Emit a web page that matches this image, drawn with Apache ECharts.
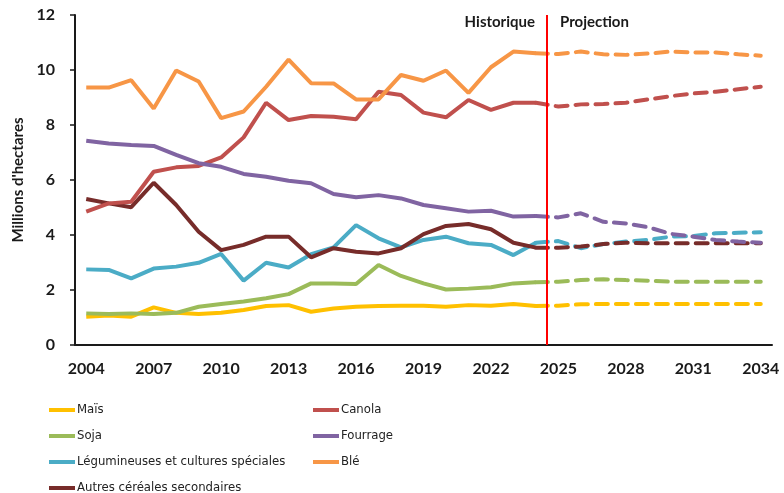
<!DOCTYPE html>
<html>
<head>
<meta charset="utf-8">
<script src="https://cdn.jsdelivr.net/npm/echarts@6/dist/echarts.min.js"></script>
<style>
  html, body { margin: 0; padding: 0; background: #fff; }
  #chart { width: 784px; height: 493px; }
</style>
</head>
<body>
<div id="chart"></div>
<script>
const years = ['2004', '2005', '2006', '2007', '2008', '2009', '2010', '2011', '2012', '2013',
  '2014', '2015', '2016', '2017', '2018', '2019', '2020', '2021', '2022', '2023', '2024',
  '2025', '2026', '2027', '2028', '2029', '2030', '2031', '2032', '2033', '2034']

// historique 2004-2024
const maisHist = [1.03, 1.07, 1.03, 1.37, 1.17, 1.13, 1.17, 1.27, 1.42, 1.45, 1.21, 1.33, 1.39, 1.42, 1.43, 1.43, 1.39, 1.45, 1.43, 1.49, 1.42]
const sojaHist = [1.15, 1.13, 1.15, 1.13, 1.17, 1.39, 1.49, 1.58, 1.7, 1.85, 2.24, 2.24, 2.22, 2.91, 2.51, 2.24, 2.02, 2.05, 2.1, 2.24, 2.28]
const legumHist = [2.75, 2.73, 2.42, 2.78, 2.85, 2.99, 3.31, 2.34, 2.99, 2.82, 3.3, 3.55, 4.36, 3.88, 3.55, 3.82, 3.94, 3.7, 3.64, 3.27, 3.72]
const autresHist = [5.31, 5.15, 5.01, 5.9, 5.09, 4.12, 3.45, 3.64, 3.94, 3.94, 3.19, 3.52, 3.39, 3.33, 3.52, 4.03, 4.33, 4.4, 4.21, 3.72, 3.54]
const canolaHist = [4.85, 5.15, 5.21, 6.3, 6.46, 6.51, 6.82, 7.55, 8.81, 8.18, 8.33, 8.3, 8.21, 9.21, 9.09, 8.45, 8.28, 8.91, 8.55, 8.81, 8.81]
const fourrageHist = [7.43, 7.33, 7.27, 7.24, 6.91, 6.61, 6.48, 6.22, 6.12, 5.97, 5.88, 5.49, 5.37, 5.45, 5.33, 5.09, 4.97, 4.85, 4.88, 4.67, 4.69]
const bleHist = [9.36, 9.36, 9.63, 8.6, 9.98, 9.58, 8.25, 8.49, 9.39, 10.38, 9.52, 9.51, 8.93, 8.93, 9.82, 9.61, 9.98, 9.17, 10.1, 10.67, 10.61]

// projection 2025-2034
const maisProj = [1.43, 1.48, 1.49, 1.49, 1.49, 1.49, 1.49, 1.49, 1.49, 1.49]
const sojaProj = [2.3, 2.36, 2.39, 2.36, 2.34, 2.3, 2.3, 2.3, 2.3, 2.3]
const legumProj = [3.78, 3.52, 3.67, 3.76, 3.82, 3.94, 3.96, 4.06, 4.08, 4.1]
const autresProj = [3.54, 3.58, 3.67, 3.72, 3.7, 3.7, 3.7, 3.7, 3.7, 3.7]
const canolaProj = [8.67, 8.75, 8.76, 8.81, 8.93, 9.05, 9.15, 9.21, 9.3, 9.39]
const fourrageProj = [4.64, 4.79, 4.48, 4.42, 4.28, 4.04, 3.94, 3.82, 3.76, 3.72]
const bleProj = [10.58, 10.67, 10.57, 10.55, 10.6, 10.67, 10.64, 10.64, 10.57, 10.52]

const yTicks = [0, 2, 4, 6, 8, 10, 12]

const crops = [
  { name: 'Maïs', color: '#FFC000', hist: maisHist, proj: maisProj },
  { name: 'Soja', color: '#9BBB59', hist: sojaHist, proj: sojaProj },
  { name: 'Légumineuses et cultures spéciales', color: '#4BACC6', hist: legumHist, proj: legumProj },
  { name: 'Autres céréales secondaires', color: '#772C2A', hist: autresHist, proj: autresProj },
  { name: 'Canola', color: '#C0504D', hist: canolaHist, proj: canolaProj },
  { name: 'Fourrage', color: '#8064A2', hist: fourrageHist, proj: fourrageProj },
  { name: 'Blé', color: '#F79646', hist: bleHist, proj: bleProj }
]

const nHist = years.indexOf('2024') + 1
const axisFont = { fontFamily: 'Lato', fontWeight: 'bold', fontSize: 16, color: '#1a1a1a' }

function histData(arr) {
  return years.map((y, i) => (i < nHist ? arr[i] : null))
}

function projData(hist, proj) {
  return years.map((y, i) => {
    if (i === nHist - 1) return hist[hist.length - 1]
    if (i >= nHist) return proj[i - nHist]
    return null
  })
}

const series = []
crops.forEach(c => {
  series.push({
    name: c.name,
    type: 'line',
    data: histData(c.hist),
    symbol: 'none',
    color: c.color,
    lineStyle: { color: c.color, width: 4 },
    animation: false
  })
})
crops.forEach(c => {
  series.push({
    name: c.name,
    type: 'line',
    data: projData(c.hist, c.proj),
    symbol: 'none',
    color: c.color,
    lineStyle: { color: c.color, width: 4, type: [12, 8], cap: 'round' },
    animation: false
  })
})
// ligne Historique / Projection
series.push({
  type: 'line',
  xAxisIndex: 1,
  data: [],
  silent: true,
  animation: false,
  markLine: {
    symbol: ['none', 'none'],
    silent: true,
    label: { show: false },
    lineStyle: { color: '#FF0000', width: 2, type: 'solid' },
    data: [{ xAxis: nHist }]
  }
})

const legendCommon = {
  orient: 'vertical',
  top: 397,
  height: 130,
  icon: 'rect',
  itemWidth: 26,
  itemHeight: 4,
  itemGap: 10,
  textStyle: {
    fontFamily: "'DejaVu Sans Condensed', 'Liberation Sans', sans-serif",
    fontSize: 13,
    color: '#222',
    lineHeight: 16,
    padding: [0, 0, 0, -3]
  }
}

const chart = echarts.init(document.getElementById('chart'), null, { renderer: 'canvas' })
chart.setOption({
  backgroundColor: '#fff',
  grid: { left: 75, right: 12, top: 15, bottom: 148 },
  legend: [
    Object.assign({}, legendCommon, { left: 44, data: ['Maïs', 'Soja', 'Légumineuses et cultures spéciales', 'Autres céréales secondaires'] }),
    Object.assign({}, legendCommon, { left: 308, data: ['Canola', 'Fourrage', 'Blé'] })
  ],
  graphic: [
    { type: 'text', right: 784 - 535, top: 15, style: { text: 'Historique', font: 'bold 15px Lato', fill: '#1a1a1a' } },
    { type: 'text', left: 560, top: 15, style: { text: 'Projection', font: 'bold 15px Lato', fill: '#1a1a1a' } }
  ],
  xAxis: [
    {
      type: 'category',
      data: years,
      boundaryGap: true,
      axisLine: { lineStyle: { color: '#1a1a1a', width: 2 } },
      axisTick: { interval: 0, length: 5, lineStyle: { color: '#1a1a1a', width: 1.5 } },
      axisLabel: Object.assign({ interval: 2, margin: 16 }, axisFont),
      splitLine: { show: false }
    },
    { type: 'value', min: 0, max: years.length, show: false }
  ],
  yAxis: {
    type: 'value',
    min: yTicks[0],
    max: yTicks[yTicks.length - 1],
    interval: 2,
    name: "Millions d'hectares",
    nameLocation: 'middle',
    nameGap: 38,
    nameTextStyle: { fontFamily: 'Lato', fontWeight: 'bold', fontSize: 15, color: '#1a1a1a' },
    axisLine: { show: true, lineStyle: { color: '#1a1a1a', width: 2 } },
    axisTick: { show: true, length: 5, lineStyle: { color: '#1a1a1a', width: 1.5 } },
    axisLabel: Object.assign({ margin: 20 }, axisFont),
    splitLine: { show: false }
  },
  series: series
})
</script>
</body>
</html>
